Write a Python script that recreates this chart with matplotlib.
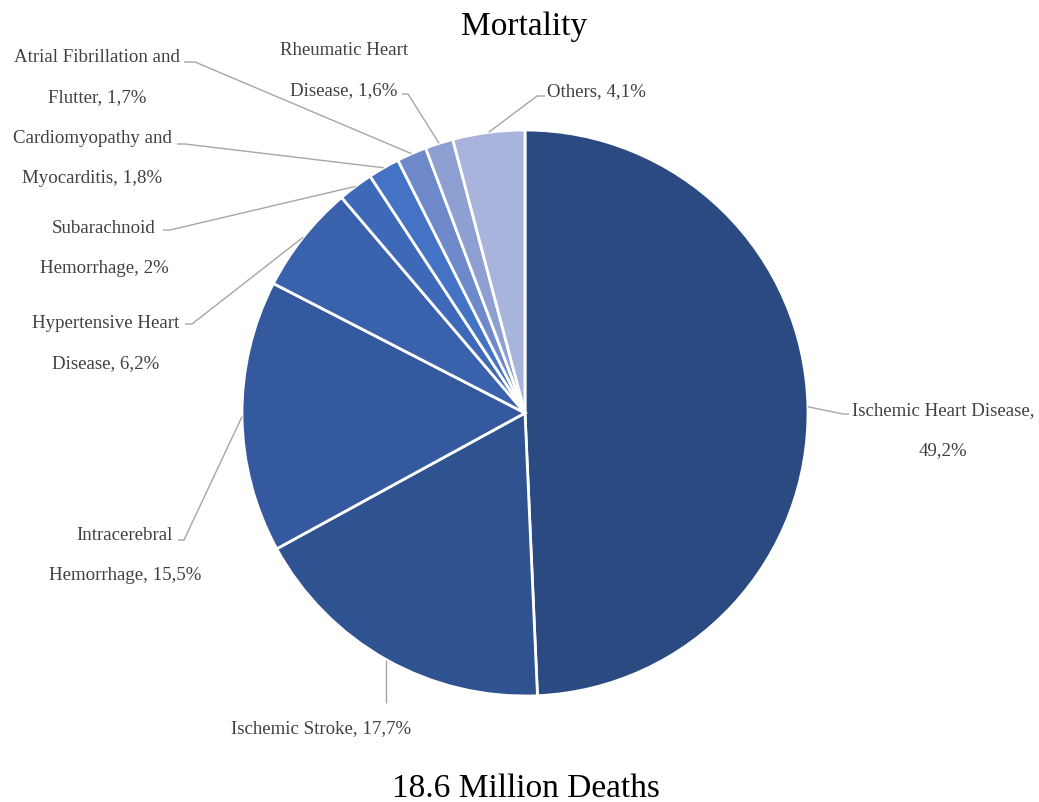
import matplotlib
matplotlib.use("Agg")
import matplotlib.pyplot as plt
import numpy as np

plt.rcParams['font.family'] = ['Liberation Serif', 'DejaVu Serif']

causes = ['Ischemic Heart Disease,\n49,2%', 'Ischemic Stroke, 17,7%',
          'Intracerebral\nHemorrhage, 15,5%', 'Hypertensive Heart\nDisease, 6,2%',
          'Subarachnoid\nHemorrhage, 2%', 'Cardiomyopathy and\nMyocarditis, 1,8%',
          'Atrial Fibrillation and\nFlutter, 1,7%', 'Rheumatic Heart\nDisease, 1,6%',
          'Others, 4,1%']
shares = [49.2, 17.7, 15.5, 6.2, 2.0, 1.8, 1.7, 1.6, 4.1]
colors = ['#2B4A82', '#2F5290', '#34599E', '#3A62AC', '#3D69B8',
          '#4472C4', '#6E89C9', '#8EA0D2', '#A8B4DB']

W, H = 1039, 803
# label layout in pixels (top-left origin): text centre x, first baseline, leader elbow, tail end
layout = [
    (943, 415, (843, 415), (849, 415)),
    (321, 733, None, None),
    (125, 540, (184, 541), (178, 541)),
    (106, 328, (192, 325), (185, 325)),
    (104, 233, (170, 231), (163, 231)),
    (92, 143, (185, 145), (177, 145)),
    (97, 62, (195, 63), (184, 63)),
    (344, 55, (408, 95), (402, 95)),
    (596, 96, (537, 97), (545, 97)),
]
line_gap = 40

fig = plt.figure(figsize=(W / 100, H / 100), dpi=100)
ax = fig.add_axes([0, 0, 1, 1])

cx, cy, r = 525, H - 414, 283
wedges, _ = ax.pie(shares, colors=colors, startangle=90, counterclock=False,
                   center=(cx, cy), radius=r,
                   wedgeprops=dict(edgecolor='white', linewidth=2))
ax.set_xlim(0, W)
ax.set_ylim(0, H)
ax.set_aspect('auto')
ax.axis('off')

lead_kw = dict(color='#A6A6A6', lw=1, solid_capstyle='butt')
for wedge, text, (tx, ty, elbow, tail) in zip(wedges, causes, layout):
    mid = np.deg2rad((wedge.theta1 + wedge.theta2) / 2)
    px, py = cx + r * np.cos(mid), cy + r * np.sin(mid)
    if elbow is None:
        ax.plot([px, px], [py, H - 704], **lead_kw)
    else:
        ax.plot([px, elbow[0], tail[0]], [py, H - elbow[1], H - tail[1]], **lead_kw)
    for i, line in enumerate(text.split('\n')):
        ax.text(tx, H - (ty + i * line_gap), line, ha='center', va='baseline',
                fontsize=13.6, color='#404040')

ax.text(524, H - 35, 'Mortality', ha='center', va='baseline', fontsize=24, color='black')
ax.text(526, H - 797, '18.6 Million Deaths', ha='center', va='baseline', fontsize=24,
        color='black')

fig.savefig('out.png', dpi=100, facecolor='white')
